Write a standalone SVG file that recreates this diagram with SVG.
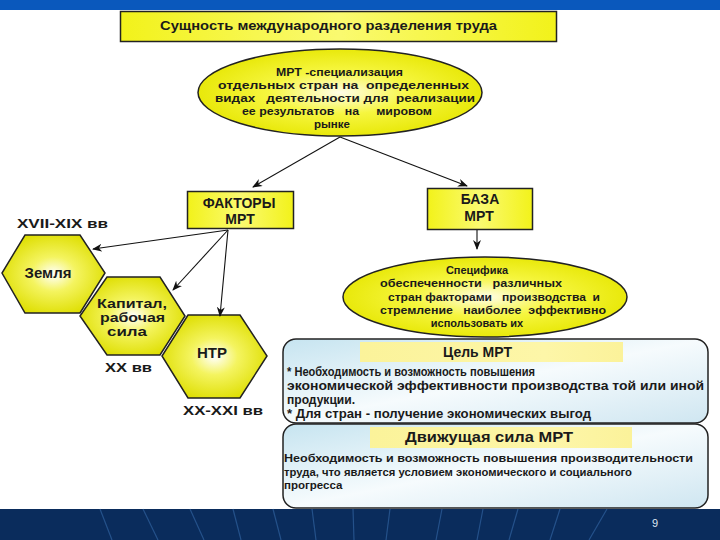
<svg xmlns="http://www.w3.org/2000/svg" width="720" height="540" viewBox="0 0 720 540">
<defs>
<radialGradient id="yg" cx="50%" cy="50%" r="55%">
<stop offset="0" stop-color="#fffde8"/>
<stop offset="0.45" stop-color="#f6f640"/>
<stop offset="1" stop-color="#e6e600"/>
</radialGradient>
<radialGradient id="hg" cx="50%" cy="50%" r="55%">
<stop offset="0" stop-color="#ffffff"/>
<stop offset="0.4" stop-color="#f4f460"/>
<stop offset="1" stop-color="#dede00"/>
</radialGradient>
<linearGradient id="tg" x1="0" y1="0" x2="1" y2="0">
<stop offset="0" stop-color="#f2f21a"/>
<stop offset="0.5" stop-color="#fafa70"/>
<stop offset="1" stop-color="#f2f21a"/>
</linearGradient>
<linearGradient id="bg" x1="0" y1="0" x2="1" y2="1">
<stop offset="0" stop-color="#c6e4f0"/>
<stop offset="0.5" stop-color="#f6fbfd"/>
<stop offset="1" stop-color="#cfe6f1"/>
</linearGradient>
<linearGradient id="lg" x1="0" y1="0" x2="1" y2="0">
<stop offset="0" stop-color="#fbf39a"/>
<stop offset="0.7" stop-color="#fdf6a8"/>
<stop offset="1" stop-color="#fbf29a"/>
</linearGradient>
<marker id="ah" viewBox="0 0 10 8" refX="9" refY="4" markerWidth="10" markerHeight="8" markerUnits="userSpaceOnUse" orient="auto">
<path d="M0,0 L10,4 L0,8 L3,4 z" fill="#111"/>
</marker>
</defs>
<style>
.t{font-family:"Liberation Sans",Arial,sans-serif;font-weight:bold;fill:#1a1a1a;white-space:pre}
.ys{stroke:#222;stroke-width:1.5}
.c{stroke:#111;stroke-width:1.1;fill:none;marker-end:url(#ah)}
.foot{stroke:#3a70b0;stroke-width:1.2;opacity:0.55}
</style>

<rect x="0" y="0" width="720" height="10" fill="#0a58bc"/>

<g id="title">
<rect x="120.5" y="11.5" width="436" height="30" fill="url(#tg)" class="ys"/>
<text class="t" x="160" y="30" font-size="13" textLength="337" lengthAdjust="spacingAndGlyphs">Сущность международного разделения труда</text>
</g>

<g id="mrt-def">
<ellipse cx="340" cy="92.5" rx="142" ry="43.5" fill="url(#yg)" class="ys"/>
<g class="t" font-size="11.5">
<text x="276" y="76" xml:space="preserve" textLength="127" lengthAdjust="spacingAndGlyphs">МРТ -специализация</text>
<text x="218" y="89" xml:space="preserve" textLength="251" lengthAdjust="spacingAndGlyphs">отдельных стран на  определенных</text>
<text x="215" y="102" xml:space="preserve" textLength="260" lengthAdjust="spacingAndGlyphs">видах   деятельности для  реализации</text>
<text x="242" y="115" xml:space="preserve" textLength="190" lengthAdjust="spacingAndGlyphs">ее результатов   на     мировом</text>
<text x="332" y="128" text-anchor="middle">рынке</text>
</g>
</g>

<g id="factors">
<rect x="187.5" y="191.5" width="106" height="37" fill="url(#tg)" class="ys"/>
<text class="t" x="239" y="208" font-size="14" text-anchor="middle">ФАКТОРЫ</text>
<text class="t" x="240" y="224" font-size="14" text-anchor="middle">МРТ</text>
</g>

<g id="base">
<rect x="427.5" y="188.5" width="105" height="41" fill="url(#tg)" class="ys"/>
<text class="t" x="480" y="204" font-size="14" text-anchor="middle">БАЗА</text>
<text class="t" x="479" y="221" font-size="14" text-anchor="middle">МРТ</text>
</g>

<g id="label-xvii">
<text class="t" x="17" y="228" font-size="13" textLength="91" lengthAdjust="spacingAndGlyphs">XVII-XIX вв</text>
</g>

<g id="land">
<polygon points="25,235 80,235 105,273 80,313 25,313 2,273" fill="url(#hg)" class="ys"/>
<text class="t" x="48" y="278" font-size="15" text-anchor="middle">Земля</text>
</g>

<g id="capital">
<polygon points="107,277 160,277 185,316 160,355 107,355 80,316" fill="url(#hg)" class="ys"/>
<text class="t" x="97" y="308" font-size="12.5" textLength="70" lengthAdjust="spacingAndGlyphs">Капитал,</text>
<text class="t" x="100" y="322" font-size="12.5" textLength="65" lengthAdjust="spacingAndGlyphs">рабочая</text>
<text class="t" x="107" y="336" font-size="12.5" textLength="40" lengthAdjust="spacingAndGlyphs">сила</text>
</g>

<g id="label-xx">
<text class="t" x="105" y="372" font-size="13" textLength="47" lengthAdjust="spacingAndGlyphs">XX вв</text>
</g>

<g id="ntr">
<polygon points="188,315 240,315 267,356 240,398 188,398 162,356" fill="url(#hg)" class="ys"/>
<text class="t" x="212" y="358" font-size="15" text-anchor="middle">НТР</text>
</g>

<g id="label-xxi">
<text class="t" x="183" y="415" font-size="13" textLength="80" lengthAdjust="spacingAndGlyphs">XX-XXI вв</text>
</g>

<g id="specifics">
<ellipse cx="485" cy="297" rx="142" ry="40" fill="url(#yg)" class="ys"/>
<g class="t" font-size="11">
<text x="477" y="274" text-anchor="middle">Специфика</text>
<text x="380" y="287" xml:space="preserve" textLength="182" lengthAdjust="spacingAndGlyphs">обеспеченности   различных</text>
<text x="388" y="301" xml:space="preserve" textLength="212" lengthAdjust="spacingAndGlyphs">стран факторами   производства  и</text>
<text x="380" y="314" xml:space="preserve" textLength="226" lengthAdjust="spacingAndGlyphs">стремление   наиболее  эффективно</text>
<text x="477" y="327" text-anchor="middle">использовать их</text>
</g>
</g>

<g id="goal">
<rect x="283" y="339" width="425" height="84" rx="13" fill="url(#bg)" stroke="#222" stroke-width="1.5"/>
<rect x="360" y="342" width="263" height="20" fill="url(#lg)"/>
<text class="t" x="443" y="357" font-size="14">Цель МРТ</text>
<g class="t" font-size="12" fill="#2a2a2a">
<text x="287" y="376" textLength="248" lengthAdjust="spacingAndGlyphs">* Необходимость и возможность повышения</text>
<text x="287" y="390" textLength="417" lengthAdjust="spacingAndGlyphs">экономической эффективности производства той или иной</text>
<text x="287" y="404" textLength="68" lengthAdjust="spacingAndGlyphs">продукции.</text>
<text x="287" y="418" textLength="304" lengthAdjust="spacingAndGlyphs">* Для стран - получение экономических выгод</text>
</g>
</g>

<g id="driving">
<rect x="283" y="424" width="425" height="84" rx="13" fill="url(#bg)" stroke="#222" stroke-width="1.5"/>
<rect x="370" y="427" width="262" height="21" fill="url(#lg)"/>
<text class="t" x="405" y="442" font-size="14" textLength="168" lengthAdjust="spacingAndGlyphs">Движущая сила МРТ</text>
<g class="t" font-size="11.5" fill="#2a2a2a">
<text x="284" y="462" textLength="409" lengthAdjust="spacingAndGlyphs">Необходимость и возможность повышения производительности</text>
<text x="284" y="476" textLength="348" lengthAdjust="spacingAndGlyphs">труда, что является условием экономического и социального</text>
<text x="284" y="489">прогресса</text>
</g>
</g>

<g id="connectors">
<line class="c" x1="340" y1="137" x2="253" y2="187"/>
<line class="c" x1="340" y1="137" x2="467" y2="186"/>
<line class="c" x1="228" y1="230" x2="93" y2="249"/>
<line class="c" x1="228" y1="230" x2="173" y2="290"/>
<line class="c" x1="228" y1="230" x2="220" y2="316"/>
<line class="c" x1="477" y1="230" x2="477" y2="249"/>
</g>

<g id="footer">
<rect x="0" y="509" width="720" height="31" fill="#0a2c5c"/>
<g class="foot">
<line x1="100" y1="509" x2="112" y2="540"/>
<line x1="143" y1="509" x2="158" y2="540"/>
<line x1="190" y1="509" x2="204" y2="540"/>
<line x1="233" y1="509" x2="241" y2="540"/>
<line x1="273" y1="509" x2="281" y2="540"/>
<line x1="312" y1="509" x2="316" y2="540"/>
<line x1="353" y1="509" x2="354" y2="540"/>
<line x1="390" y1="509" x2="386" y2="540"/>
<line x1="442" y1="509" x2="436" y2="540"/>
<line x1="483" y1="509" x2="477" y2="540"/>
<line x1="518" y1="509" x2="509" y2="540"/>
<line x1="560" y1="509" x2="550" y2="540"/>
<line x1="607" y1="509" x2="589" y2="540"/>
</g>
<text x="655" y="527" font-family="Liberation Sans, Arial, sans-serif" font-size="11" fill="#dde6f2" text-anchor="middle">9</text>
</g>
</svg>
